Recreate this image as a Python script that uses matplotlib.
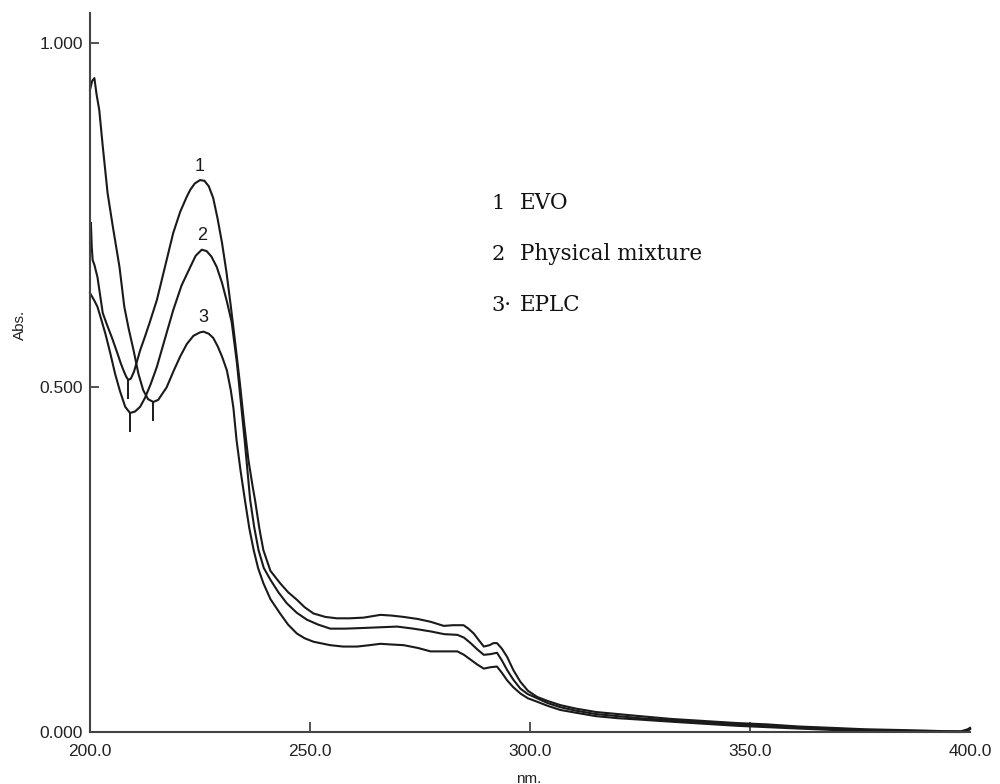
import numpy as np
import matplotlib
matplotlib.use("Agg")
import matplotlib.pyplot as plt

# ---------------- data ----------------
wavelength_evo = [200.0, 200.2, 200.4, 200.6, 201.0, 201.7, 202.9, 203.8, 205.0, 206.1, 207.0, 207.6,
                  208.2, 208.7, 209.3, 210.0, 211.4, 212.5, 213.5, 215.2, 217.0, 218.9, 220.5,
                  222.0, 222.8, 223.8, 225.0, 226.0, 227.0, 228.0, 229.0, 230.0, 231.0, 232.0,
                  233.0, 234.0, 235.0, 236.0, 237.0, 237.5, 238.5, 239.4, 241.0, 243.2, 245.0,
                  247.0, 248.8, 250.8, 253.5, 256.1, 259.0, 262.2, 266.0, 268.5, 271.3, 274.5,
                  277.4, 280.4, 282.5, 284.9, 286.0, 287.2, 288.4, 289.5, 290.8, 291.7, 292.5,
                  293.6, 294.8, 296.2, 297.8, 299.5, 301.6, 304.0, 306.9, 310.4, 315.0, 320.0,
                  325.0, 332.0, 339.5, 347.0, 354.0, 361.0, 368.6, 376.0, 383.2, 390.0, 395.0,
                  398.0, 399.5, 400.0]
abs_evo = [0.710, 0.739, 0.704, 0.685, 0.678, 0.660, 0.608, 0.592, 0.572, 0.552, 0.535, 0.525,
           0.516, 0.511, 0.513, 0.523, 0.554, 0.574, 0.593, 0.627, 0.674, 0.724, 0.755,
           0.777, 0.787, 0.796, 0.801, 0.800, 0.792, 0.775, 0.745, 0.710, 0.668, 0.618,
           0.565, 0.510, 0.450, 0.395, 0.355, 0.337, 0.295, 0.264, 0.234, 0.216, 0.203,
           0.192, 0.181, 0.172, 0.167, 0.165, 0.165, 0.166, 0.170, 0.169, 0.167, 0.164,
           0.160, 0.154, 0.155, 0.155, 0.150, 0.143, 0.133, 0.124, 0.126, 0.129, 0.129,
           0.121, 0.109, 0.090, 0.073, 0.060, 0.051, 0.045, 0.039, 0.034, 0.029, 0.026,
           0.023, 0.019, 0.016, 0.013, 0.011, 0.008, 0.006, 0.004, 0.003, 0.002, 0.001,
           0.001, 0.004, 0.006]

wavelength_mix = [200.0, 201.0, 201.7, 202.5, 203.5, 204.6, 205.7, 206.8, 208.0, 209.1, 210.2, 211.4,
                  212.5, 213.8, 215.2, 217.0, 218.9, 220.8, 222.8, 224.0, 225.4, 226.5, 227.6,
                  228.8, 230.0, 231.1, 232.2, 233.4, 234.5, 235.2, 236.4, 237.3, 238.3, 239.5,
                  241.0, 242.8, 244.7, 247.0, 249.3, 251.8, 254.6, 258.0, 262.2, 266.0, 269.8,
                  273.5, 277.4, 280.5, 283.5, 285.0, 286.5, 288.0, 289.5, 291.0, 292.5, 293.6,
                  294.8, 296.2, 297.8, 299.5, 301.6, 304.0, 306.9, 310.4, 315.0, 320.0, 325.0,
                  332.0, 339.5, 347.0, 354.0, 361.0, 368.6, 376.0, 383.2, 390.0, 395.0, 398.0,
                  399.5, 400.0]
abs_mix = [0.637, 0.626, 0.617, 0.600, 0.578, 0.550, 0.520, 0.495, 0.472, 0.463, 0.465, 0.472,
           0.485, 0.505, 0.530, 0.570, 0.612, 0.648, 0.675, 0.691, 0.700, 0.698, 0.690,
           0.675, 0.652, 0.625, 0.595, 0.535, 0.465, 0.420, 0.337, 0.298, 0.264, 0.238,
           0.221, 0.203, 0.187, 0.173, 0.163, 0.156, 0.150, 0.150, 0.151, 0.152, 0.153,
           0.150, 0.146, 0.142, 0.141, 0.137, 0.129, 0.120, 0.112, 0.113, 0.115, 0.104,
           0.090, 0.076, 0.063, 0.055, 0.049, 0.042, 0.036, 0.031, 0.026, 0.023, 0.020,
           0.017, 0.014, 0.011, 0.009, 0.007, 0.005, 0.003, 0.002, 0.001, 0.001, 0.0005,
           0.003, 0.005]

wavelength_eplc = [200.0, 200.5, 201.0, 201.5, 202.1, 202.9, 204.0, 205.2, 206.7, 207.8, 208.8,
                   209.9, 211.0, 212.1, 213.2, 214.4, 215.5, 217.4, 219.0, 220.5, 222.0, 223.5,
                   225.0, 225.8, 227.0, 228.0, 229.0, 230.0, 231.1, 232.0, 232.6, 233.3, 234.2,
                   235.2, 236.2, 237.2, 238.2, 239.4, 241.0, 243.2, 245.0, 247.0, 248.8, 250.8,
                   254.6, 257.5, 260.7, 263.5, 266.0, 268.5, 271.3, 274.5, 277.4, 280.5, 283.5,
                   285.0, 286.5, 288.0, 289.5, 291.0, 292.5, 293.6, 294.8, 296.2, 297.8, 299.5,
                   301.6, 304.0, 306.9, 310.4, 315.0, 320.0, 325.0, 332.0, 339.5, 347.0, 354.0,
                   361.0, 368.6, 376.0, 383.2, 390.0, 395.0, 398.0, 399.5, 400.0]
abs_eplc = [0.932, 0.945, 0.949, 0.925, 0.903, 0.850, 0.782, 0.733, 0.675, 0.617, 0.585,
            0.554, 0.520, 0.496, 0.483, 0.479, 0.482, 0.500, 0.524, 0.545, 0.563, 0.575,
            0.580, 0.581, 0.578, 0.572, 0.560, 0.545, 0.525, 0.496, 0.470, 0.424, 0.380,
            0.337, 0.296, 0.264, 0.238, 0.216, 0.193, 0.172, 0.156, 0.143, 0.136, 0.131,
            0.126, 0.124, 0.124, 0.126, 0.128, 0.127, 0.126, 0.122, 0.117, 0.117, 0.117,
            0.112, 0.105, 0.098, 0.092, 0.094, 0.095, 0.086, 0.075, 0.065, 0.056, 0.049,
            0.044, 0.038, 0.032, 0.028, 0.023, 0.020, 0.018, 0.015, 0.012, 0.009, 0.007,
            0.005, 0.003, 0.002, 0.001, 0.0005, 0.0, 0.0, 0.002, 0.004]

curve_numbers = ["1", "2", "3"]
legend_numbers = ["1", "2", "3\u00b7"]
legend_names = ["EVO", "Physical mixture", "EPLC"]
x_ticks = [200.0, 250.0, 300.0, 350.0, 400.0]
x_tick_labels = ["200.0", "250.0", "300.0", "350.0", "400.0"]
y_ticks = [0.0, 0.5, 1.0]
y_tick_labels = ["0.000", "0.500", "1.000"]
x_label = "nm."
y_label = "Abs."

# ---------------- figure ----------------
W, H = 1000, 784
fig = plt.figure(figsize=(W / 100, H / 100), dpi=100)
ax = fig.add_axes([90 / W, 1 - 732 / H, 880 / W, (732 - 13) / H])
ax.set_xlim(200, 400)
ax.set_ylim(0, 1.0435)

line_color = "#1a1a1a"
series = [(wavelength_evo, abs_evo), (wavelength_mix, abs_mix), (wavelength_eplc, abs_eplc)]
for (xs, ys), num in zip(series, curve_numbers):
    xs = np.asarray(xs); ys = np.asarray(ys)
    ax.plot(xs, ys, color=line_color, lw=1.5, solid_joinstyle="round", clip_on=False)
    # peak label
    win = (xs > 218) & (xs < 232)
    ip = np.argmax(np.where(win, ys, -1))
    ax.annotate(num, (xs[ip], ys[ip]), xytext=(0, 4), textcoords="offset points",
                ha="center", va="bottom", fontsize=13, family="Liberation Sans", color="#1a1a1a")
    # valley marker
    win2 = (xs > 205) & (xs < 218)
    im = np.argmin(np.where(win2, ys, 9))
    ax.vlines(xs[im], ys[im] - 0.028, ys[im], color=line_color, lw=1.4)

# legend text
leg_y = [0.759, 0.685, 0.611]
for n, name, yy in zip(legend_numbers, legend_names, leg_y):
    ax.text(291.2, yy, n, fontsize=15, family="DejaVu Serif", va="baseline", ha="left", color="#111")
    ax.text(297.7, yy, name, fontsize=15.5, family="DejaVu Serif", va="baseline", ha="left", color="#111")

# spines / ticks
for s in ["top", "right"]:
    ax.spines[s].set_visible(False)
for s in ["left", "bottom"]:
    ax.spines[s].set_color("#444444")
    ax.spines[s].set_linewidth(1.5)

ax.set_xticks(x_ticks)
ax.set_xticklabels(x_tick_labels, family="Liberation Sans", fontsize=12.5, color="#222")
ax.set_yticks(y_ticks)
ax.set_yticklabels(y_tick_labels, family="Liberation Sans", fontsize=12.5, color="#222")
ax.tick_params(axis="x", direction="in", length=7, width=1.3, color="#444444", pad=9)
ax.tick_params(axis="y", direction="in", length=6.5, width=1.3, color="#444444", pad=5)
xt = ax.xaxis.get_major_ticks()
xt[0].tick1line.set_visible(False)
xt[-1].tick1line.set_visible(False)
ax.yaxis.get_major_ticks()[0].tick1line.set_visible(False)

fig.text(20 / W, 1 - 325 / H, y_label, rotation=90, ha="center", va="center",
         fontsize=11, family="Liberation Sans", color="#222")
fig.text(529 / W, 1 - 772 / H, x_label, ha="center", va="top",
         fontsize=11, family="Liberation Sans", color="#222")

fig.savefig("out.png", dpi=100, facecolor="white")
